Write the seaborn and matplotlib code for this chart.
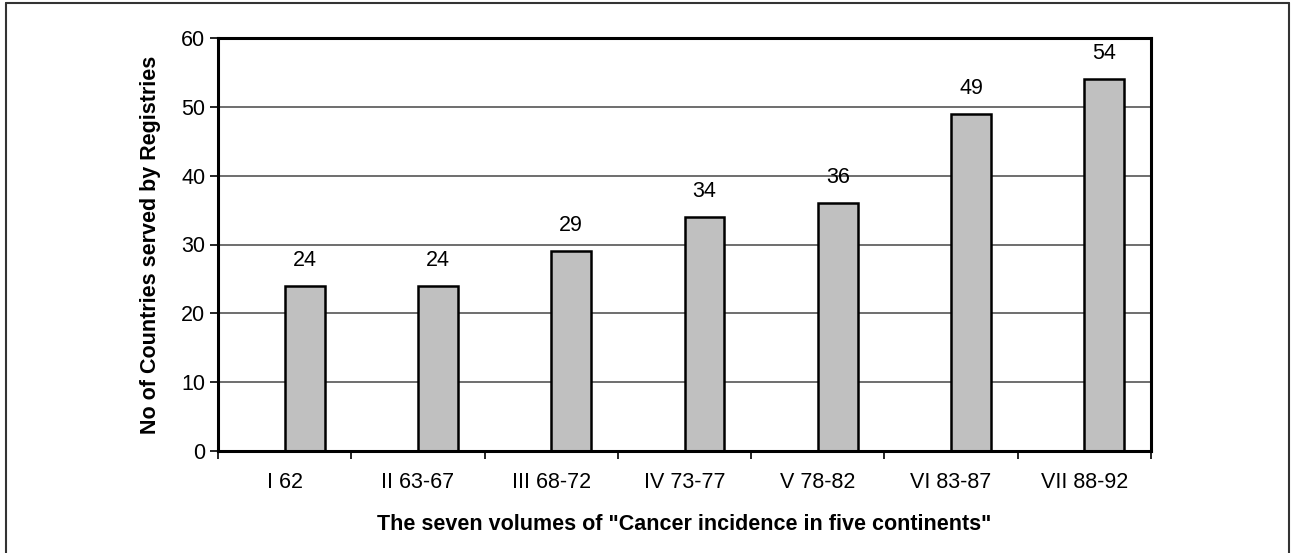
import matplotlib
matplotlib.use("Agg")
import matplotlib.pyplot as plt
import seaborn as sns
import pandas as pd
from matplotlib.lines import Line2D

# Volumes of "Cancer incidence in five continents" and countries covered
volumes = ["I 62", "II 63-67", "III 68-72", "IV 73-77", "V 78-82", "VI 83-87", "VII 88-92"]
countries = [24, 24, 29, 34, 36, 49, 54]
yticks = [0, 10, 20, 30, 40, 50, 60]

sns.set_theme(style="white")
plt.rcParams["font.family"] = ["Liberation Sans", "DejaVu Sans"]
plt.rcParams["text.color"] = "black"
plt.rcParams["axes.labelcolor"] = "black"
plt.rcParams["xtick.color"] = "black"
plt.rcParams["ytick.color"] = "black"

FS = 15.5

# Two dodge slots per volume; the first is an empty spacer so the bar sits
# just right of the category centre.
df = pd.DataFrame({
    "volume": volumes * 2,
    "series": ["spacer"] * len(volumes) + ["countries"] * len(volumes),
    "value": [0] * len(volumes) + countries,
})

fig = plt.figure(figsize=(12.91, 5.53), dpi=100)
ax = fig.add_axes([218 / 1291, 1 - 451 / 553, (1151 - 218) / 1291, (451 - 38) / 553])

sns.barplot(
    data=df, x="volume", y="value", hue="series",
    hue_order=["spacer", "countries"], order=volumes,
    palette={"spacer": "#c0c0c0", "countries": "#c0c0c0"},
    edgecolor="black", linewidth=1.8, width=0.6, dodge=True,
    legend=False, ax=ax,
)

# Hide the zero-height spacer bars
for p in ax.patches:
    if p.get_height() == 0:
        p.set_visible(False)

ax.set_ylim(0, 60)
ax.set_xlim(-0.5, len(volumes) - 0.5)
ax.set_yticks(yticks)
ax.set_yticklabels([str(t) for t in yticks], fontsize=FS)
ax.yaxis.grid(True, color="#555555", linewidth=1.2)
ax.set_axisbelow(True)

# Category ticks sit on the boundaries between volumes
ax.set_xticks([i - 0.5 for i in range(len(volumes) + 1)], minor=False)
ax.set_xticklabels([""] * (len(volumes) + 1))
ax.set_xticks(range(len(volumes)), minor=True)
ax.set_xticklabels(volumes, minor=True, fontsize=FS)
ax.tick_params(axis="x", which="major", direction="out", length=6, width=1.2, color="black", bottom=True)
ax.tick_params(axis="x", which="minor", length=0, pad=15)
ax.tick_params(axis="y", direction="out", length=6, width=1.2, color="black", left=True, pad=3)

for s in ax.spines.values():
    s.set_visible(True)
    s.set_color("black")
    s.set_linewidth(2.2)

# Value labels above the bars
bar_patches = [p for p in ax.patches if p.get_visible()]
for p, v in zip(bar_patches, countries):
    ax.text(p.get_x() + p.get_width() / 2, v + 3.7, str(v),
            ha="center", va="center", fontsize=FS, color="black")

ax.set_xlabel('The seven volumes of "Cancer incidence in five continents"',
              fontsize=FS, fontweight="bold", labelpad=15)
ax.set_ylabel("No of Countries served by Registries",
              fontsize=FS, fontweight="bold", labelpad=15)

# Frame around the figure (open at the bottom)
x0, x1 = 6 / 1291, 1289 / 1291
y_top = 1 - 3 / 553
for xs, ys in [([x0, x0], [-0.01, y_top]), ([x0, x1], [y_top, y_top]), ([x1, x1], [y_top, -0.01])]:
    fig.add_artist(Line2D(xs, ys, transform=fig.transFigure, color="#333333", linewidth=1.5))

fig.savefig("out.png", dpi=100, facecolor="white")
